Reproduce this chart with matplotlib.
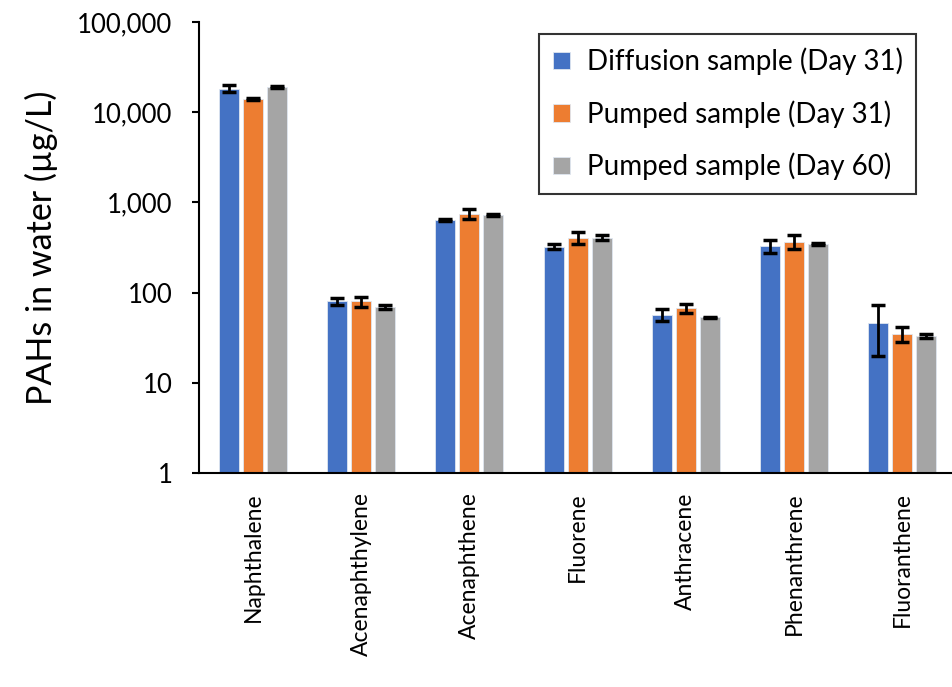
import numpy as np
import matplotlib.pyplot as plt
from matplotlib.ticker import FuncFormatter, NullLocator

# PAHs en agua, escala logaritmica

compuestos = ["Naphthalene", "Acenaphthylene", "Acenaphthene", "Fluorene",
              "Anthracene", "Phenanthrene", "Fluoranthene"]
series = ["Diffusion sample (Day 31)", "Pumped sample (Day 31)", "Pumped sample (Day 60)"]

difusion_d31 = [18300, 80, 640, 322, 57, 332, 46]
bombeo_d31 = [14000, 80, 750, 405, 67, 368, 35]
bombeo_d60 = [19000, 69, 725, 405, 53, 345, 33]

err_difusion_d31 = [1500, 7, 20, 20, 8, 55, 26]
err_bombeo_d31 = [300, 10, 100, 60, 7, 63, 6.5]
err_bombeo_d60 = [500, 3.5, 15, 25, 1, 10, 2]

colores = ["#4472C4", "#ED7D31", "#A5A5A5"]

plt.rcParams['font.family'] = ['Lato', 'DejaVu Sans']

fig = plt.figure(figsize=(9.53, 6.87), dpi=100)
ax = fig.add_axes([0.2088, 0.3115, 0.7912, 0.6565])

x = np.arange(len(compuestos))
ancho = 0.185
paso = 0.222
valores = [difusion_d31, bombeo_d31, bombeo_d60]
errores = [err_difusion_d31, err_bombeo_d31, err_bombeo_d60]

for i in range(3):
    ax.bar(x + (i - 1) * paso, valores[i], ancho, color=colores[i],
           edgecolor="#dfe6f0", linewidth=0.6, label=series[i],
           yerr=errores[i], capsize=5,
           error_kw=dict(ecolor="black", elinewidth=2, capthick=2.5))

ax.set_yscale("log")
ax.set_ylim(1, 100000)
ax.set_xlim(-0.5, 6.47)
ax.yaxis.set_minor_locator(NullLocator())
ax.yaxis.set_major_formatter(FuncFormatter(lambda v, p: f"{v:,.0f}"))

ax.set_xticks(x)
ax.set_xticklabels(compuestos, rotation=90, fontsize=16.5)
ax.tick_params(axis="x", length=0, pad=14)
ax.tick_params(axis="y", labelsize=18.5, length=5, width=1.5, direction="out", pad=14)

for lado in ["top", "right"]:
    ax.spines[lado].set_visible(False)
ax.spines["left"].set_linewidth(1.5)
ax.spines["bottom"].set_linewidth(1.5)

ax.set_ylabel("PAHs in water (µg/L)", fontsize=24.5, labelpad=14)

ley = ax.legend(loc="upper right", bbox_to_anchor=(0.97, 1.005), fontsize=20,
                frameon=True, fancybox=False, edgecolor="black",
                handlelength=0.6, handleheight=0.6, handletextpad=0.6,
                labelspacing=0.9, borderpad=0.5, borderaxespad=0.5)
ley.get_frame().set_linewidth(1.5)

plt.savefig("out.png", dpi=100)
